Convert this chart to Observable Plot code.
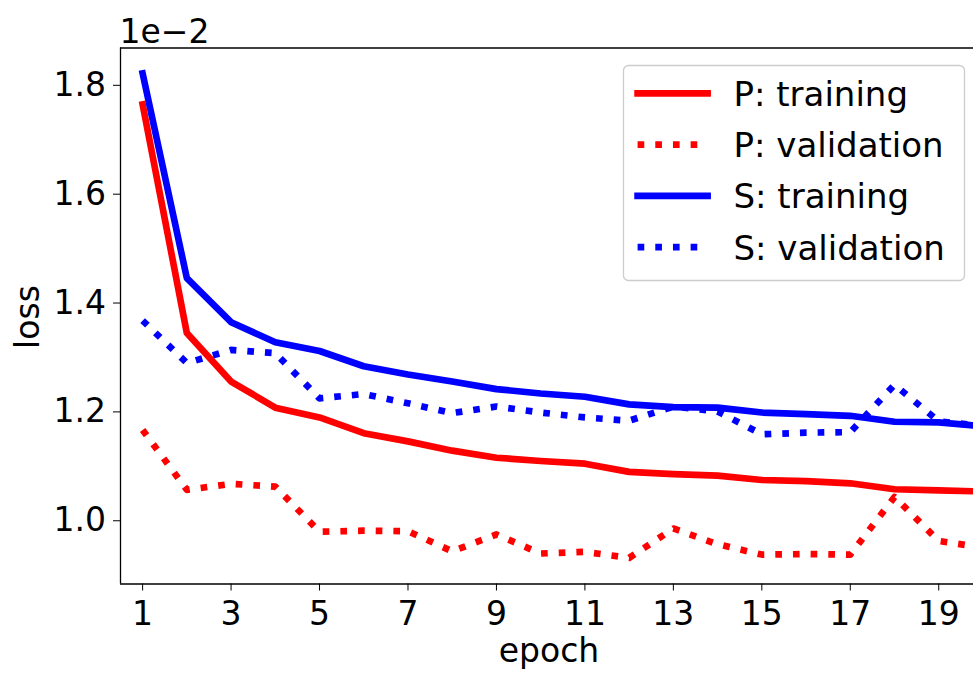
<!DOCTYPE html>
<html>
<head>
<meta charset="utf-8">
<script src="https://cdn.jsdelivr.net/npm/d3@7"></script>
<script src="https://cdn.jsdelivr.net/npm/@observablehq/plot@0.6"></script>
<style>
html, body { margin: 0; padding: 0; background: #fff; overflow: hidden; }
#chart { position: relative; width: 973px; height: 675px; }
</style>
</head>
<body>
<div id="chart"></div>
<script>
// ---- data (values in units of 1e-2) ----
const epochs = [1, 2, 3, 4, 5, 6, 7, 8, 9, 10, 11, 12, 13, 14, 15, 16, 17, 18, 19, 20];
const pTraining   = [1.763, 1.343, 1.254, 1.206, 1.188, 1.159, 1.144, 1.127, 1.114, 1.108, 1.103, 1.088, 1.084, 1.081, 1.073, 1.071, 1.067, 1.056, 1.054, 1.052];
const pValidation = [1.165, 1.055, 1.066, 1.061, 0.978, 0.980, 0.979, 0.942, 0.973, 0.938, 0.941, 0.930, 0.984, 0.955, 0.936, 0.937, 0.936, 1.042, 0.961, 0.949];
const sTraining   = [1.820, 1.444, 1.363, 1.326, 1.310, 1.282, 1.267, 1.254, 1.240, 1.232, 1.226, 1.212, 1.207, 1.206, 1.197, 1.194, 1.191, 1.180, 1.179, 1.172];
const sValidation = [1.366, 1.288, 1.312, 1.306, 1.223, 1.231, 1.214, 1.196, 1.208, 1.197, 1.188, 1.182, 1.208, 1.199, 1.157, 1.160, 1.161, 1.248, 1.181, 1.172];

const seriesNames  = ["P: training", "P: validation", "S: training", "S: validation"];
const seriesColors = ["#ff0000", "#ff0000", "#0000ff", "#0000ff"];
const seriesDotted = [false, true, false, true];

const xTicks = [1, 3, 5, 7, 9, 11, 13, 15, 17, 19];
const yTicks = [1.0, 1.2, 1.4, 1.6, 1.8];
const yExponentLabel = "1e\u22122";
const xLabel = "epoch";
const yLabel = "loss";

// ---- build table ----
const seriesValues = [pTraining, pValidation, sTraining, sValidation];
const rows = seriesNames.flatMap((name, i) =>
  epochs.map((e, j) => ({ epoch: e, loss: seriesValues[i][j], series: name }))
);

const W = 973, H = 675;
const mT = 47.5, mB = 91.5, mL = 120, mR = 0;
const xDomain = [0.5, 19.786];
const yDomain = [0.882, 1.8667];
const fontFamily = "'DejaVu Sans', 'Liberation Sans', sans-serif";
const LW = 6.67;

const lineMarks = seriesNames.map((name, i) => {
  const opts = {
    x: "epoch", y: "loss",
    stroke: seriesColors[i],
    strokeWidth: LW,
    strokeLinejoin: "round",
    strokeLinecap: seriesDotted[i] ? "butt" : "square",
    clip: true
  };
  if (seriesDotted[i]) opts.strokeDasharray = `${LW} ${LW * 1.65}`;
  return Plot.line(rows.filter(d => d.series === name), opts);
});

const svgEl = Plot.plot({
  width: W, height: H,
  marginTop: mT, marginBottom: mB, marginLeft: mL, marginRight: mR,
  style: { fontFamily: fontFamily, fontSize: "33px", color: "#000", background: "#fff" },
  x: { domain: xDomain },
  y: { domain: yDomain },
  marks: [
    ...lineMarks,
    Plot.ruleY([yDomain[1]], { stroke: "#000", strokeWidth: 1.3 }),
    Plot.ruleY([yDomain[0]], { stroke: "#000", strokeWidth: 1.3 }),
    Plot.ruleX([xDomain[0]], { stroke: "#000", strokeWidth: 1.3 }),
    Plot.axisX({ ticks: xTicks, tickSize: 7, tickPadding: 10.5, tickFormat: d => String(d), label: null, fontSize: 33 }),
    Plot.axisY({ ticks: yTicks, tickSize: 7, tickPadding: 7.5, tickFormat: d3.format(".1f"), label: null, fontSize: 33, dy: 1 })
  ]
});

document.getElementById("chart").appendChild(svgEl);
const svg = d3.select(svgEl);

// exponent label
svg.append("text")
  .attr("x", 119.5).attr("y", 42.7)
  .attr("text-anchor", "start")
  .attr("font-family", fontFamily).attr("font-size", 33).attr("fill", "#000")
  .text(yExponentLabel);

// axis labels
svg.append("text")
  .attr("x", 549).attr("y", 662)
  .attr("text-anchor", "middle")
  .attr("font-family", fontFamily).attr("font-size", 33).attr("fill", "#000")
  .text(xLabel);

svg.append("text")
  .attr("transform", "translate(39,317) rotate(-90)")
  .attr("text-anchor", "middle")
  .attr("font-family", fontFamily).attr("font-size", 33).attr("fill", "#000")
  .text(yLabel);

// legend
const lg = svg.append("g");
lg.append("rect")
  .attr("x", 623.5).attr("y", 65.5).attr("width", 341).attr("height", 215)
  .attr("rx", 5).attr("ry", 5)
  .attr("fill", "#fff").attr("fill-opacity", 0.8)
  .attr("stroke", "#cccccc").attr("stroke-width", 1.3);
seriesNames.forEach((name, i) => {
  const cy = 93.3 + i * 51.3;
  const ln = lg.append("line")
    .attr("x1", 637.6).attr("x2", 707.6).attr("y1", cy).attr("y2", cy)
    .attr("stroke", seriesColors[i]).attr("stroke-width", LW)
    .attr("stroke-linecap", seriesDotted[i] ? "butt" : "square");
  if (seriesDotted[i]) ln.attr("stroke-dasharray", `${LW} ${LW * 1.65}`);
  lg.append("text")
    .attr("x", 733.5).attr("y", cy + 12.5)
    .attr("text-anchor", "start")
    .attr("font-family", fontFamily).attr("font-size", 34).attr("fill", "#000")
    .text(name);
});
</script>
</body>
</html>
